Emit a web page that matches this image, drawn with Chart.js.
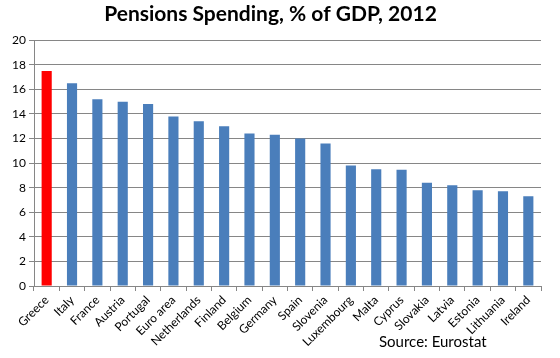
<!DOCTYPE html>
<html><head><meta charset="utf-8">
<script src="https://cdn.jsdelivr.net/npm/chart.js@4"></script>
<style>html,body{margin:0;padding:0;background:#fff}</style>
</head><body>
<canvas id="c" width="560" height="358"></canvas>
<script>
const categories = ["Greece","Italy","France","Austria","Portugal","Euro area","Netherlands","Finland","Belgium","Germany","Spain","Slovenia","Luxembourg","Malta","Cyprus","Slovakia","Latvia","Estonia","Lithuania","Ireland"];
const pensionSpending = [17.5,16.5,15.2,15.0,14.8,13.8,13.4,13.0,12.4,12.3,12.0,11.6,9.8,9.5,9.45,8.4,8.2,7.8,7.7,7.3];
const highlightCategory = "Greece";
const yTicks = [0,2,4,6,8,10,12,14,16,18,20];
const titleText = "Pensions Spending, % of GDP, 2012";
const sourceText = "Source: Eurostat";

const colors = categories.map(c => c === highlightCategory ? "#ff0000" : "#4a7ebb");
const fontFam = "Lato, 'Open Sans', sans-serif";

const sourcePlugin = {
  id: 'source',
  afterDraw(chart) {
    const ctx = chart.ctx;
    ctx.save();
    ctx.font = "15px " + fontFam;
    ctx.fillStyle = "#000";
    ctx.textAlign = "left";
    ctx.textBaseline = "middle";
    ctx.fillText(sourceText, 379, 342);
    ctx.restore();
  }
};

new Chart(document.getElementById('c'), {
  type: 'bar',
  data: {
    labels: categories,
    datasets: [{ data: pensionSpending, backgroundColor: colors, barPercentage: 0.4, categoryPercentage: 1.0 }]
  },
  options: {
    responsive: false,
    animation: false,
    layout: { padding: { left: 0, right: 19, top: 0, bottom: 0 } },
    plugins: {
      legend: { display: false },
      tooltip: { enabled: false },
      title: { display: true, text: titleText, color: "#000", font: { family: fontFam, size: 21, weight: 'bold' }, padding: { top: 2, bottom: 13 } }
    },
    scales: {
      x: {
        offset: true,
        afterFit(axis) { axis.height = 72; },
        grid: { drawOnChartArea: false, offset: true, tickLength: 5, color: "#868686" },
        border: { color: "#868686" },
        ticks: { color: "#000", font: { family: fontFam, size: 12 }, maxRotation: 45, minRotation: 45, autoSkip: false, padding: 2 }
      },
      y: {
        min: 0, max: 20,
        afterFit(axis) { axis.width = 34; },
        afterBuildTicks(axis) { axis.ticks = yTicks.map(v => ({ value: v })); },
        grid: { color: "#868686", tickLength: 5 },
        border: { color: "#868686" },
        ticks: { color: "#000", font: { family: fontFam, size: 12 }, padding: 3 }
      }
    }
  },
  plugins: [sourcePlugin]
});
</script>
</body></html>
